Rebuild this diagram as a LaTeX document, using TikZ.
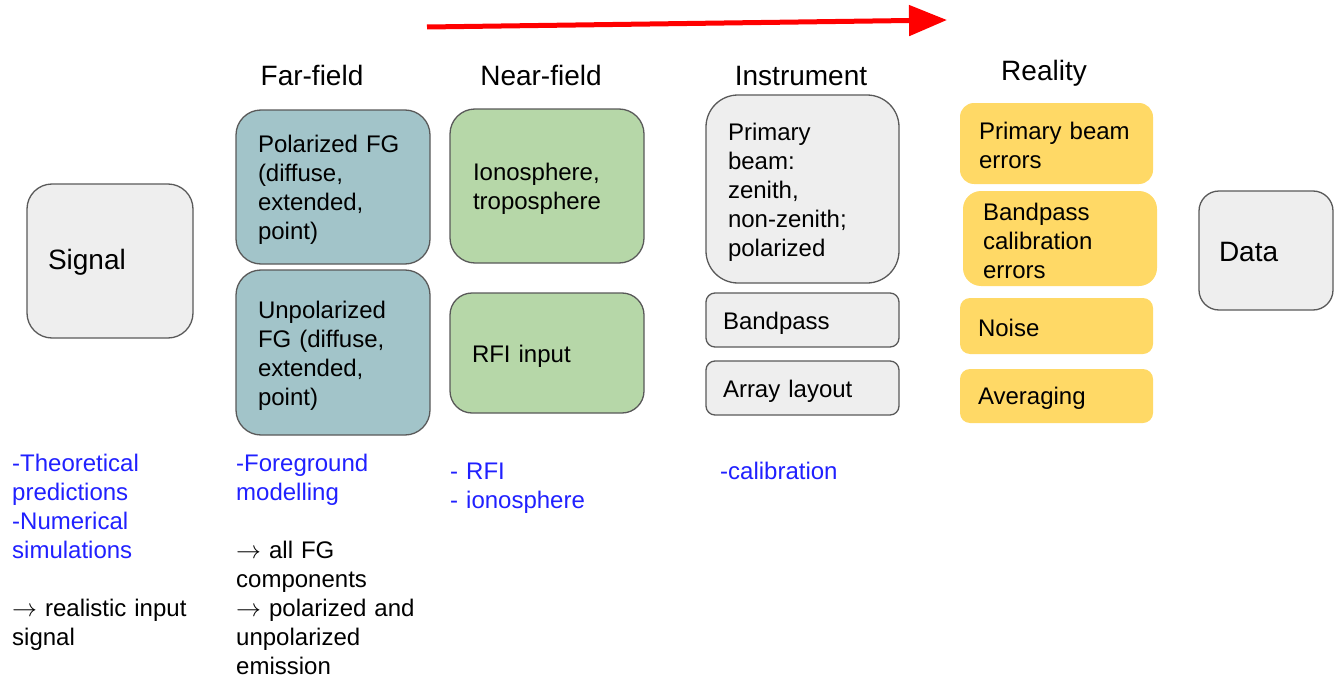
\documentclass[tikz,border=0pt]{standalone}
\usepackage{fontspec}
\setmainfont{Liberation Sans}
\usetikzlibrary{arrows.meta}
\definecolor{gfill}{HTML}{EEEEEE}
\definecolor{tfill}{HTML}{A2C4C9}
\definecolor{nfill}{HTML}{B6D7A8}
\definecolor{yfill}{HTML}{FFD966}
\definecolor{edge}{HTML}{595959}
\definecolor{bluetxt}{HTML}{2020FF}
\begin{document}
\begin{tikzpicture}[x=1pt,y=-1pt,
  font=\fontsize{24}{29}\selectfont,
  box/.style={rounded corners=#1, draw=edge, line width=1.3pt, inner ysep=0pt, align=left, anchor=center, execute at begin node={\rule{0pt}{23pt}}},
  ybox/.style={rounded corners=#1, fill=yfill, draw=none, inner ysep=0pt, align=left, anchor=center, execute at begin node={\rule{0pt}{22pt}}},
  head/.style={font=\fontsize{28}{34}\selectfont, anchor=base, inner sep=0pt},
  note/.style={anchor=base west, inner sep=0pt, text width=260pt, align=left},
  bignote/.style={note, text=bluetxt}]
\useasboundingbox (0,0) rectangle (1334,677);

% top arrow
\coordinate (arrS) at (427,27);
\coordinate (arrE) at (947,20);
\draw[red, line width=5pt, -{Triangle[length=38pt, width=30pt]}] (arrS) -- (arrE);

% headings
\node[head] (hff) at (312,85) {Far-field};
\node[head] (hnf) at (541,85) {Near-field};
\node[head] (hin) at (801,85) {Instrument};
\node[head] (hre) at (1044,81) {Reality};

% signal
\node[box=25pt, fill=gfill, minimum width=166pt, minimum height=154pt, text width=124pt, inner xsep=21pt, font=\fontsize{28}{34}\selectfont] (sig) at (110,261) {Signal};

% far-field
\node[box=25pt, fill=tfill, minimum width=194pt, minimum height=154pt, text width=150pt, inner xsep=22pt] (pol) at (333,187) {Polarized FG\\(diffuse,\\extended,\\point)};
\node[box=25pt, fill=tfill, minimum width=194pt, minimum height=165pt, text width=150pt, inner xsep=22pt] (unp) at (333,352.5) {Unpolarized\\FG (diffuse,\\extended,\\point)};

% near-field
\node[box=25pt, fill=nfill, minimum width=194pt, minimum height=154pt, text width=148pt, inner xsep=23pt] (ion) at (547,186) {Ionosphere,\\troposphere};
\node[box=22pt, fill=nfill, minimum width=194pt, minimum height=120pt, text width=150pt, inner xsep=22pt] (rfi) at (547,353) {RFI input};

% instrument
\node[box=32pt, fill=gfill, minimum width=193pt, minimum height=188pt, text width=149pt, inner xsep=22pt] (pb) at (802.5,189) {Primary\\beam:\\zenith,\\non-zenith;\\polarized};
\node[box=9pt, fill=gfill, minimum width=193pt, minimum height=54pt, text width=159pt, inner xsep=17pt] (bp) at (802.5,320) {Bandpass};
\node[box=9pt, fill=gfill, minimum width=193pt, minimum height=54pt, text width=159pt, inner xsep=17pt] (al) at (802.5,388) {Array layout};

% reality
\node[ybox=14pt, minimum width=193pt, minimum height=81pt, text width=155pt, inner xsep=19pt] (pbe) at (1056.5,143.5) {Primary beam\\errors};
\node[ybox=18pt, minimum width=194pt, minimum height=95pt, text width=154pt, inner xsep=20pt] (bce) at (1060,238.5) {Bandpass\\calibration\\errors};
\node[ybox=10pt, minimum width=193pt, minimum height=56pt, text width=157pt, inner xsep=18pt] (noi) at (1056.5,326) {Noise};
\node[ybox=10pt, minimum width=193pt, minimum height=54pt, text width=157pt, inner xsep=18pt] (avg) at (1056.5,396) {Averaging};

% data
\node[box=20pt, fill=gfill, minimum width=134pt, minimum height=119pt, text width=94pt, inner xsep=20pt, font=\fontsize{28}{34}\selectfont] (dat) at (1266,250.5) {Data};

% notes
\node[bignote] (n1) at (12,471) {-Theoretical\\predictions\\-Numerical\\simulations};
\node[note] (n1b) at (12,616) {$\rightarrow$\ realistic input\\signal};
\node[bignote] (n2) at (236,471) {-Foreground\\modelling};
\node[note] (n2b) at (236,558) {$\rightarrow$\ all FG\\components\\$\rightarrow$\ polarized and\\unpolarized\\emission};
\node[bignote] (n3) at (450,479) {- RFI\\- ionosphere};
\node[bignote] (n4) at (720,479) {-calibration};
\end{tikzpicture}
\end{document}
